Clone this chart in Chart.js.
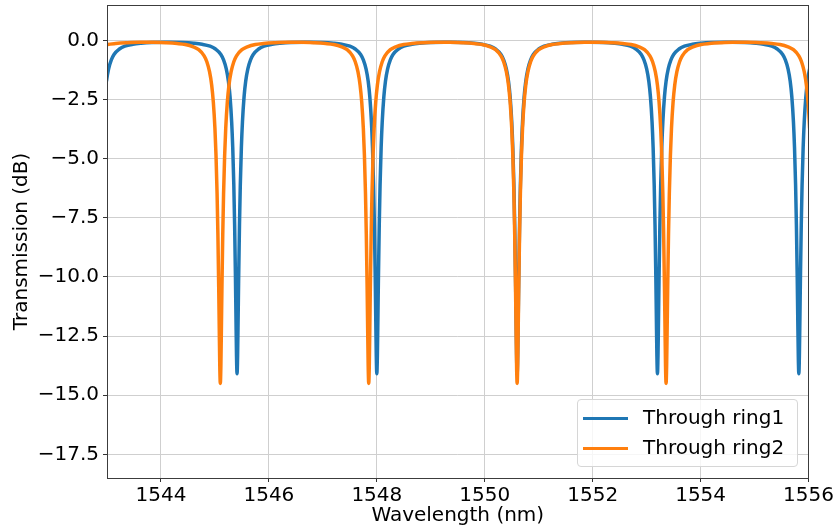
<!DOCTYPE html>
<html>
<head>
<meta charset="utf-8">
<script src="https://cdn.jsdelivr.net/npm/chart.js@4.4.0/dist/chart.umd.min.js"></script>
<style>
html, body { margin: 0; padding: 0; background: #fff; }
#wrap { position: relative; width: 836px; height: 531px; }
#legend { position: absolute; left: 577px; top: 399px; width: 221px; height: 68px; box-sizing: border-box;
  border: 1px solid #d6d6d6; border-radius: 4px; background: rgba(255,255,255,0.8);
  font-family: 'DejaVu Sans'; font-size: 20px; color: #000; }
.item { position: absolute; left: 5px; height: 24px; line-height: 24px; white-space: nowrap; }
.swatch { display: inline-block; width: 45px; height: 3px; vertical-align: middle; margin-right: 15px; }
</style>
</head>
<body>
<div id="wrap">
  <canvas id="chart" width="836" height="531"></canvas>
  <div id="legend">
    <div class="item" style="top:5px"><span class="swatch" style="background:#1f77b4"></span>Through ring1</div>
    <div class="item" style="top:35px"><span class="swatch" style="background:#ff7f0e"></span>Through ring2</div>
  </div>
</div>
<script>
// resonance centres (nm)
const ring1Centers = [1542.83, 1545.41, 1548.00, 1550.60, 1553.20, 1555.82]
const ring2Centers = [1542.36, 1545.10, 1547.85, 1550.60, 1553.36, 1556.12]

// shape of one dip: offset from centre (nm) and transmission (dB)
const dipOffsets = [-1.25, -1.0, -0.8, -0.65, -0.5, -0.4, -0.3, -0.25, -0.2, -0.16, -0.13, -0.1, -0.08, -0.06, -0.045, -0.03, -0.02, -0.01,
  0, 0.01, 0.02, 0.03, 0.045, 0.06, 0.08, 0.1, 0.13, 0.16, 0.2, 0.25, 0.3, 0.4, 0.5, 0.65, 0.8, 1.0, 1.25]
const ring1DipDb = [-0.08, -0.09, -0.12, -0.16, -0.24, -0.36, -0.59, -0.82, -1.20, -1.72, -2.38, -3.44, -4.53, -6.12, -7.79, -9.99, -11.73, -13.35,
  -14.09, -13.35, -11.73, -9.99, -7.79, -6.12, -4.53, -3.44, -2.38, -1.72, -1.20, -0.82, -0.59, -0.36, -0.24, -0.16, -0.12, -0.09, -0.08]
const ring2DipDb = [-0.08, -0.10, -0.13, -0.17, -0.27, -0.39, -0.65, -0.90, -1.32, -1.89, -2.60, -3.72, -4.86, -6.49, -8.19, -10.41, -12.15, -13.77,
  -14.50, -13.77, -12.15, -10.41, -8.19, -6.49, -4.86, -3.72, -2.60, -1.89, -1.32, -0.90, -0.65, -0.39, -0.27, -0.17, -0.13, -0.10, -0.08]

const xTicks = [1544, 1546, 1548, 1550, 1552, 1554, 1556]
const yTicks = [-17.5, -15, -12.5, -10, -7.5, -5, -2.5, 0]

function buildSeries(centers, profile) {
  const pts = []
  for (const c of centers) {
    dipOffsets.forEach((o, i) => pts.push({ x: +(c + o).toFixed(3), y: profile[i] }))
  }
  return pts
}

const font = { family: 'DejaVu Sans', size: 20 }

// matplotlib-like frame on all four sides
const frame = {
  id: 'frame',
  afterDatasetsDraw(chart) {
    const a = chart.chartArea, ctx = chart.ctx
    ctx.save()
    ctx.strokeStyle = '#3c3c3c'
    ctx.lineWidth = 1
    ctx.strokeRect(Math.round(a.left) + 0.5, Math.round(a.top) + 0.5, Math.round(a.right - a.left) - 1, Math.round(a.bottom - a.top))
    ctx.restore()
  }
}

new Chart(document.getElementById('chart'), {
  type: 'line',
  data: {
    datasets: [
      { label: 'Through ring1', data: buildSeries(ring1Centers, ring1DipDb), borderColor: '#1f77b4', order: 1 },
      { label: 'Through ring2', data: buildSeries(ring2Centers, ring2DipDb), borderColor: '#ff7f0e', order: 0 }
    ]
  },
  options: {
    responsive: false,
    animation: false,
    layout: { padding: { top: 5, right: 27, left: 0, bottom: 0 } },
    elements: {
      point: { radius: 0 },
      line: { borderWidth: 3.5, cubicInterpolationMode: 'monotone', fill: false }
    },
    datasets: { line: { clip: 0 } },
    plugins: { legend: { display: false }, tooltip: { enabled: false } },
    scales: {
      x: {
        type: 'linear', min: 1543, max: 1556,
        afterFit: s => { s.height = 53 },
        afterBuildTicks: s => { s.ticks = xTicks.map(v => ({ value: v })) },
        grid: { color: '#cfcfcf', tickColor: '#333', tickLength: 4 },
        border: { display: false },
        ticks: { font, color: '#000', padding: 2, maxRotation: 0, callback: v => String(v) },
        title: { display: true, text: 'Wavelength (nm)', font, color: '#000', padding: { top: 0, bottom: 3 } }
      },
      y: {
        min: -18.5, max: 1.5,
        afterFit: s => { s.width = 107; s.paddingTop = 0; s.paddingBottom = 0 },
        afterBuildTicks: s => { s.ticks = yTicks.map(v => ({ value: v })) },
        grid: { color: '#cfcfcf', tickColor: '#333', tickLength: 4 },
        border: { display: false },
        ticks: { font, color: '#000', padding: 4, callback: v => (v < 0 ? '\u2212' : '') + Math.abs(v).toFixed(1) },
        title: { display: true, text: 'Transmission (dB)', font, color: '#000', padding: { top: 10, bottom: 0 } }
      }
    }
  },
  plugins: [frame]
})
</script>
</body>
</html>
